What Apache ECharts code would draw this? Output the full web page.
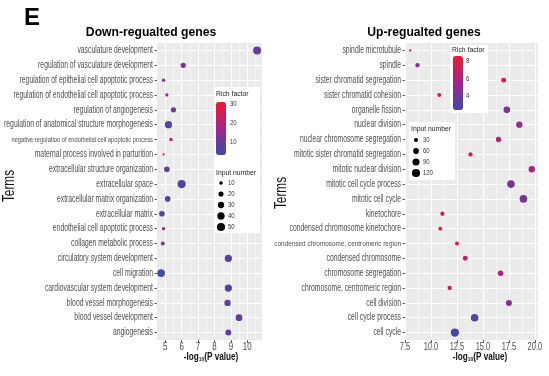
<!DOCTYPE html>
<html>
<head>
<meta charset="utf-8">
<script src="https://cdn.jsdelivr.net/npm/echarts@6/dist/echarts.min.js"></script>
<style>
html, body { margin: 0; padding: 0; background: #fff; }
#chart { width: 549px; height: 376px; }
</style>
</head>
<body>
<div id="chart"></div>
<script>
// down-regulated genes (top to bottom)
var downTerms = ['vasculature development', 'regulation of vasculature development',
  'regulation of epithelial cell apoptotic process', 'regulation of endothelial cell apoptotic process',
  'regulation of angiogenesis', 'regulation of anatomical structure morphogenesis',
  'negative regulation of endothelial cell apoptotic process', 'maternal process involved in parturition',
  'extracellular structure organization', 'extracellular space', 'extracellular matrix organization',
  'extracellular matrix', 'endothelial cell apoptotic process', 'collagen metabolic process',
  'circulatory system development', 'cell migration', 'cardiovascular system development',
  'blood vessel morphogenesis', 'blood vessel development', 'angiogenesis'];
var downPvalue = [10.6, 6.1, 4.9, 5.1, 5.5, 5.2, 5.35, 4.9, 5.1, 6.0, 5.15, 4.8, 4.9, 4.85, 8.85, 4.75, 8.85, 8.8, 9.5, 8.85];
var downCount = [48, 21, 9, 8, 21, 40, 9, 4, 24, 50, 24, 24, 9, 12, 40, 44, 40, 30, 34, 27];
var downRich = [8, 13, 17, 19, 10, 6, 24, 30, 8, 5, 8, 6, 17, 14, 7, 4, 7, 8, 8, 8];

// up-regulated genes (top to bottom)
var upTerms = ['spindle microtubule', 'spindle', 'sister chromatid segregation', 'sister chromatid cohesion',
  'organelle fission', 'nuclear division', 'nuclear chromosome segregation',
  'mitotic sister chromatid segregation', 'mitotic nuclear division', 'mitotic cell cycle process',
  'mitotic cell cycle', 'kinetochore', 'condensed chromosome kinetochore',
  'condensed chromosome, centromeric region', 'condensed chromosome', 'chromosome segregation',
  'chromosome, centromeric region', 'cell division', 'cell cycle process', 'cell cycle'];
var upPvalue = [8.0, 8.7, 17.0, 10.8, 17.3, 18.5, 16.5, 13.8, 19.7, 17.7, 18.9, 11.1, 10.9, 12.5, 13.3, 16.7, 11.8, 17.5, 14.2, 12.3];
var upCount = [10, 33, 44, 28, 79, 71, 50, 33, 71, 104, 104, 33, 28, 28, 44, 55, 33, 64, 104, 124];
var upRich = [8.5, 4.5, 7.3, 7.5, 4.5, 5.0, 6.2, 8.0, 5.8, 4.0, 4.2, 8.2, 8.3, 8.3, 6.8, 6.0, 6.8, 4.6, 3.0, 2.6];

var downXTicks = [5, 6, 7, 8, 9, 10];
var upXTicks = [7.5, 10, 12.5, 15, 17.5, 20];
var downSizeTicks = [10, 20, 30, 40, 50];
var upSizeTicks = [30, 60, 90, 120];
var downRichTicks = [10, 20, 30];
var upRichTicks = [4, 6, 8];

var FONT = '"Liberation Sans", Arial, sans-serif';
var gradient = ['#3D4BA7', '#A3238F', '#EF1A2E'];

function downSize(n) { return 1.15 * Math.sqrt(n); }
function upSize(n) { return 0.75 * Math.sqrt(n); }

function rows(p, c, r, terms) {
  return terms.map(function (t, i) { return [p[i], t, c[i], r[i]]; });
}

var chart = echarts.init(document.getElementById('chart'), null, {renderer: 'canvas'});

function xAxisOf(gridIndex, min, max, interval, ticks) {
  var ax = {
    type: 'value', gridIndex: gridIndex, min: min, max: max,
    axisLine: {show: false},
    axisTick: {show: true, length: 3, customValues: ticks, lineStyle: {color: '#333', width: 0.8}},
    axisLabel: {show: false},
    splitLine: {show: true, lineStyle: {color: '#fff', width: 1}},
    minorTick: {show: false, splitNumber: 2},
    minorSplitLine: {show: true, lineStyle: {color: '#fff', width: 0.5}}
  };
  if (interval) ax.interval = interval;
  return ax;
}

function yAxisOf(gridIndex, terms) {
  return {
    type: 'category', gridIndex: gridIndex, data: terms, inverse: true,
    axisLine: {show: false},
    axisTick: {show: true, length: 2.5, alignWithLabel: true, interval: 0, lineStyle: {color: '#333', width: 0.8}},
    axisLabel: {show: false},
    splitLine: {show: true, alignWithLabel: true, interval: 0, lineStyle: {color: '#fff', width: 1}}
  };
}

function colorBar(seriesIndex, min, max, left, top, h) {
  return {
    type: 'continuous', seriesIndex: seriesIndex, dimension: 3, min: min, max: max,
    left: left, top: top, itemWidth: 10, itemHeight: h, padding: 0, z: 6,
    calculable: false, hoverLink: false, text: null, showLabel: false,
    inRange: {color: gradient}
  };
}

chart.setOption({
  animation: false,
  grid: [
    {left: 157, right: 287, top: 43, bottom: 36, show: true, backgroundColor: '#EBEBEB', borderWidth: 0, outerBoundsMode: 'none'},
    {left: 405, right: 11, top: 43, bottom: 36, show: true, backgroundColor: '#EBEBEB', borderWidth: 0, outerBoundsMode: 'none'}
  ],
  xAxis: [
    xAxisOf(0, 4.5, 10.9, null, downXTicks),
    xAxisOf(1, 7.5, 20.3, 2.5, upXTicks)
  ],
  yAxis: [
    yAxisOf(0, downTerms),
    yAxisOf(1, upTerms)
  ],
  visualMap: [
    colorBar(0, 3.3, 31, 216, 102, 53),
    colorBar(1, 2.4, 8.6, 453, 56, 54)
  ],
  series: [
    {type: 'scatter', xAxisIndex: 0, yAxisIndex: 0, data: rows(downPvalue, downCount, downRich, downTerms),
      symbolSize: function (v) { return downSize(v[2]); }, itemStyle: {opacity: 1}},
    {type: 'scatter', xAxisIndex: 1, yAxisIndex: 1, data: rows(upPvalue, upCount, upRich, upTerms),
      symbolSize: function (v) { return upSize(v[2]); }, itemStyle: {opacity: 1}}
  ]
});

// text helpers (the reference uses a condensed face, so texts are squeezed horizontally)
function txt(text, x, y, size, opt) {
  opt = opt || {};
  return {
    type: 'text', x: x, y: y, z: 8, scaleX: opt.sx || 1, rotation: opt.rot || 0,
    style: {text: text, fontFamily: FONT, fontSize: size, fontWeight: opt.bold ? 'bold' : 'normal',
      fill: opt.color || '#4D4D4D', align: opt.align || 'left', verticalAlign: 'middle', rich: opt.rich}
  };
}

var graphics = [
  txt('E', 32, 18, 24, {bold: true, color: '#000', align: 'center'}),
  txt('Down-regualted genes', 151, 32, 13.5, {bold: true, color: '#000', align: 'center', sx: 0.9}),
  txt('Up-regualted genes', 424, 32, 13.5, {bold: true, color: '#000', align: 'center', sx: 0.9}),
  txt('Terms', 10, 186, 16, {color: '#111', align: 'center', sx: 0.74, rot: Math.PI / 2}),
  txt('Terms', 282, 193, 16, {color: '#111', align: 'center', sx: 0.74, rot: Math.PI / 2})
];

var subRich = {sub: {fontFamily: FONT, fontWeight: 'bold', fontSize: 6, fill: '#111', padding: [5, 0, 0, 0]}};
graphics.push(txt('-log{sub|10}(P value)', 211, 357, 10, {bold: true, color: '#111', align: 'center', sx: 0.82, rich: subRich}));
graphics.push(txt('-log{sub|10}(P value)', 480, 357, 10, {bold: true, color: '#111', align: 'center', sx: 0.82, rich: subRich}));

// category labels placed on the library's category axes
downTerms.forEach(function (t) {
  var y = chart.convertToPixel({yAxisIndex: 0}, t);
  graphics.push(t.length > 50 ? txt(t, 153, y, 8, {align: 'right', sx: 0.72}) : txt(t, 153, y, 10, {align: 'right', sx: 0.68}));
});
upTerms.forEach(function (t) {
  var y = chart.convertToPixel({yAxisIndex: 1}, t);
  graphics.push(t.length > 38 ? txt(t, 401, y, 8, {align: 'right', sx: 0.8}) : txt(t, 401, y, 10, {align: 'right', sx: 0.68}));
});
// x tick labels placed on the value axes
downXTicks.forEach(function (v) {
  graphics.push(txt(String(v), chart.convertToPixel({xAxisIndex: 0}, v), 347, 11, {align: 'center', sx: 0.72}));
});
upXTicks.forEach(function (v) {
  graphics.push(txt(v.toFixed(1), chart.convertToPixel({xAxisIndex: 1}, v), 347, 11, {align: 'center', sx: 0.68}));
});

// legend panels
function box(x, y, w, h) {
  return {type: 'rect', z: 1, shape: {x: x, y: y, width: w, height: h}, style: {fill: '#fff'}};
}
function sizeKey(ticks, sizeFn, dotX, y0, step) {
  var els = [];
  ticks.forEach(function (n, i) {
    var y = y0 + i * step;
    els.push({type: 'circle', z: 8, shape: {cx: dotX, cy: y, r: sizeFn(n) / 2}, style: {fill: '#000'}});
    els.push(txt(String(n), dotX + 7, y, 7, {color: '#333', sx: 0.85}));
  });
  return els;
}
function richKey(ticks, min, max, top, h, x) {
  return ticks.map(function (v) {
    return txt(String(v), x, top + (max - v) / (max - min) * h, 7, {color: '#333', sx: 0.85});
  });
}

graphics.push(box(215, 87, 45, 146));
graphics.push(txt('Rich factor', 216, 94, 8, {color: '#222', sx: 0.85}));
graphics = graphics.concat(richKey(downRichTicks, 3.3, 31, 102, 53, 230));
graphics.push(txt('Input number', 216, 173, 8, {color: '#222', sx: 0.85}));
graphics = graphics.concat(sizeKey(downSizeTicks, downSize, 221, 183, 11));

graphics.push(box(450, 45, 38, 68));
graphics.push(txt('Rich factor', 452, 50, 8, {color: '#222', sx: 0.85}));
graphics = graphics.concat(richKey(upRichTicks, 2.4, 8.6, 56, 54, 466));

graphics.push(box(409, 122, 46, 58));
graphics.push(txt('Input number', 411, 129, 8, {color: '#222', sx: 0.85}));
graphics = graphics.concat(sizeKey(upSizeTicks, upSize, 416, 140, 11));

chart.setOption({graphic: graphics});
</script>
</body>
</html>
